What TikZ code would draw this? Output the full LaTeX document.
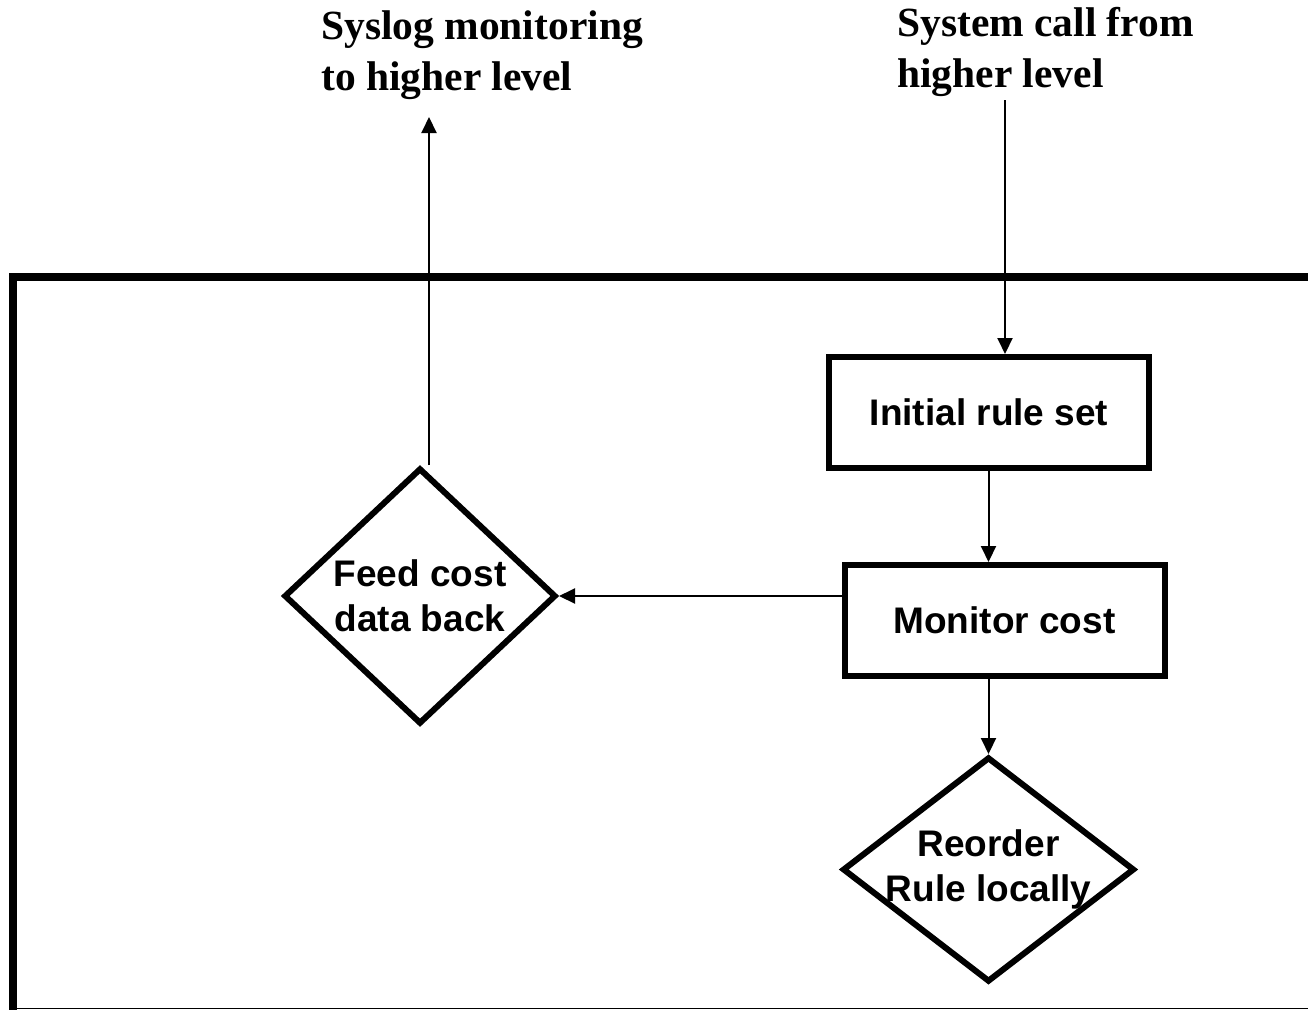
\documentclass[tikz,border=0pt]{standalone}
\usepackage{fontspec}
\setmainfont{Liberation Serif}
\setsansfont{Liberation Sans}
\usetikzlibrary{arrows.meta,shapes.geometric}
\begin{document}
\begin{tikzpicture}[x=1pt,y=-1pt,
  boxnode/.style={draw,line width=6pt,rectangle,minimum width=320pt,minimum height=111pt,inner sep=0pt,
    font=\sffamily\bfseries\fontsize{37}{45}\selectfont},
  decision/.style={draw,line width=6pt,diamond,inner sep=0pt},
  dlabel/.style={font=\sffamily\bfseries\fontsize{37}{45}\selectfont,align=center,inner sep=0pt},
  toplabel/.style={font=\bfseries\fontsize{41.5}{51}\selectfont,align=left,inner sep=0pt},
  arr/.style={line width=2pt,-{Triangle[length=16pt,width=15pt]}},
  frameline/.style={line width=8pt,line join=miter},
]
\useasboundingbox (0,0) rectangle (1308,1010);

% frame
\draw[frameline] (1308,277) -- (13,277) -- (13,1010);
\draw[line width=1.5pt] (17,1008.5) -- (1308,1008.5);

% top labels (base anchor = baseline of last line)
\node[toplabel,anchor=base west] (syslog) at (321,90) {Syslog monitoring\\to higher level};
\node[toplabel,anchor=base west] (syscall) at (897,87) {System call from\\higher level};

% boxes
\node[boxnode] (init) at (989,412.5) {Initial rule set};
\node[boxnode] (mon) at (1004.5,620.5) {Monitor cost};

% decisions
\node[decision,minimum width=272pt,minimum height=256pt] (feed) at (420,596) {};
\node[dlabel] (feedtxt) at (feed.center) {Feed cost\\data back};
\node[decision,minimum width=292pt,minimum height=225pt] (reorder) at (988.5,869.5) {};
\node[dlabel] (reordertxt) at (reorder.center) {Reorder\\Rule locally};

% connectors
\coordinate (callin) at (1005,100);
\coordinate (logout) at (429,117);
\draw[arr] (callin) -- (callin |- init.north);
\draw[arr] (init.south -| reorder.north) -- (reorder.north |- mon.north);
\draw[arr] (mon.west |- feed.east) -- (feed.east);
\draw[arr] (logout |- feed.north) -- (logout);
\draw[arr] (reorder.north |- mon.south) -- (reorder.north);
\end{tikzpicture}
\end{document}
